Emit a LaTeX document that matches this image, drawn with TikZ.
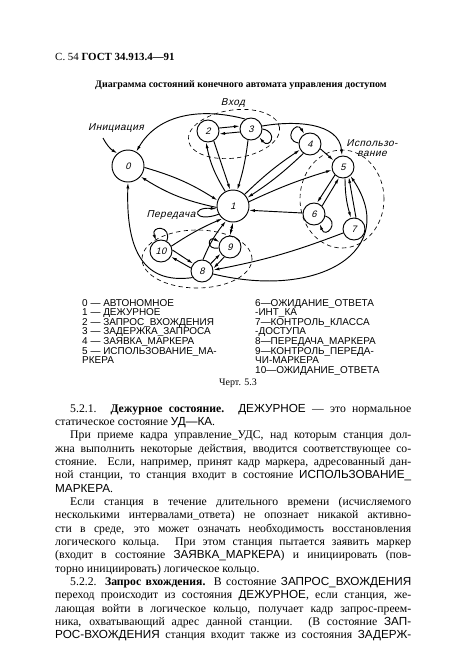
\documentclass[tikz,border=0pt]{standalone}
\usepackage{fontspec}
\setmainfont{Liberation Serif}
\newfontfamily\capfont{Liberation Sans}
\newfontfamily\gostfont[FakeSlant=0.25,LetterSpace=5]{Liberation Sans}
\usetikzlibrary{arrows.meta, positioning, calc}

\newcommand{\cp}[1]{{\capfont #1}}
\newlength{\fullw}\setlength{\fullw}{106.8mm}
\newlength{\indw}\setlength{\indw}{102.3mm}
\newcommand{\jline}[1]{\hbox to \fullw{#1}}
\newcommand{\jind}[1]{\hbox to \indw{#1}}

\begin{document}
\begin{tikzpicture}[x=0.3mm, y=0.3mm,
  >={Latex[length=1.8mm, width=0.9mm]},
  state/.style={draw, circle, line width=0.8pt, minimum size=6.6mm, inner sep=0pt, font=\gostfont\fontsize{8}{8}\selectfont},
  bigstate/.style={state, minimum size=9.6mm},
  flow/.style={->, line width=0.8pt},
  group/.style={draw, dash pattern=on 1.3mm off 1mm, line width=0.55pt},
  tag/.style={font=\gostfont\fontsize{8.5}{9}\selectfont, inner sep=0pt, align=center},
  legend/.style={anchor=base west, inner sep=0pt, font=\capfont\fontsize{8.5}{8.5}\selectfont},
  body/.style={anchor=base west, inner sep=0pt, font=\fontsize{10}{12}\selectfont}
]
\useasboundingbox (0,0) rectangle (466,-661);

% page head
\node[anchor=base west, inner sep=0pt, font=\fontsize{9.3}{10}\selectfont] (head) at (55,-60) {С. 54 \textbf{ГОСТ 34.913.4—91}};
\node[anchor=base, inner sep=0pt, font=\bfseries\fontsize{8.5}{10}\selectfont] (title) at (241,-87) {Диаграмма состояний конечного автомата управления доступом};

% states
\node[bigstate] (s0) at (128,-166) {0};
\node[bigstate] (s1) at (233,-206) {1};
\node[state] (s2) at (208,-131) {2};
\node[state] (s3) at (251,-129) {3};
\node[state] (s4) at (310,-144) {4};
\node[state] (s5) at (343,-167) {5};
\node[state] (s6) at (314,-214) {6};
\node[state] (s7) at (354,-229) {7};
\node[state] (s8) at (202,-271) {8};
\node[state] (s9) at (230,-247) {9};
\node[state] (s10) at (161,-251) {10};

% groups
\draw[group, rotate around={8:(234,-134)}] (234,-134) ellipse [x radius=46, y radius=24];
\draw[group] (342,-199) ellipse [x radius=42, y radius=49];
\draw[group] (197,-259) ellipse [x radius=55, y radius=29];

% labels
\node[tag] (lbInit) at (116,-128) {Инициация};
\node[tag] (lbVhod) at (233,-103) {Вход};
\node[tag] (lbUse) at (372,-148) {Использо-\\вание};
\node[tag] (lbPered) at (171,-215) {Передача};
\coordinate (initTail) at (103,-138);

% transitions
\draw[flow] (initTail) to[bend right=15] (s0.130);
\draw[flow] (s3.120) to[out=165, in=60] (s0.60);
\draw[flow] (s0.-5) to[bend left=8] (s1.160);
\draw[flow] (s1.185) to[bend left=10] (s0.-40);
\draw[flow] (s8.215) .. controls (140,-285) and (126,-245) .. (s0.-90);
\draw[flow] (s2.15) -- (s3.165);
\draw[flow] (s3.-165) -- (s2.-15);
\draw[flow] (s1.118) to[bend left=10] (s2.-100);
\draw[flow] (s2.-60) -- (s1.100);
\draw[flow] (s3.-105) to[bend left=5] (s1.75);
\draw[flow] (s1.45) to[bend left=5] (s4.-150);
\draw[flow] (s4.-125) to[bend left=5] (s1.30);
\draw[flow] (s1.15) to[bend left=4] (s5.195);
\draw[flow] (s4.-25) -- (s5.145);
\draw[flow] (s3.15) to[out=10, in=95] (s5.95);
\draw[flow] (s5.-135) -- (s6.75);
\draw[flow] (s6.45) -- (s5.-110);
\draw[flow] (s6.175) -- (s1.-15);
\draw[flow] (s5.-80) to[bend right=8] (s7.105);
\draw[flow] (s7.80) -- (s5.-60);
\draw[flow] (s8.-15) .. controls (320,-300) and (400,-250) .. (s5.-50);
\draw[flow] (s7.-160) to[bend left=5] (s8.5);
\draw[<->, line width=0.8pt] (s1.-90) -- (s9.90);
\draw[flow] (s10.25) to[bend left=5] (s1.-130);
\draw[flow] (s8.85) to[bend left=8] (s1.-115);
\draw[flow] (s10.5) -- (s8.140);
\draw[flow] (s8.165) -- (s10.-30);
\draw[flow] (s8.40) -- (s9.-145);
\draw[flow] (s9.-120) -- (s8.12);

% self loops
\draw[flow] (s3.0) to[out=-10, in=-50, distance=5mm] (s3.-45);
\draw[flow] (s4.175) to[out=170, in=120, distance=5mm] (s4.120);
\draw[flow] (s6.-10) to[out=-20, in=-70, distance=5mm] (s6.-60);
\draw[flow] (s1.210) to[out=200, in=175, distance=8mm] (s1.190);
\draw[flow] (s9.185) to[out=190, in=150, distance=4mm] (s9.155);
\draw[flow] (s10.60) to[out=70, in=110, distance=5mm] (s10.115);

% legend
\foreach \t [count=\i] in {0 — АВТОНОМНОЕ, 1 — ДЕЖУРНОЕ, 2 — ЗАПРОС\_ВХОЖДЕНИЯ, 3 — ЗАДЕРЖКА\_ЗАПРОСА, 4 — ЗАЯВКА\_МАРКЕРА, 5 — ИСПОЛЬЗОВАНИЕ\_МА-, РКЕРА}
  \node[legend] (legL\i) at (82,{-306-9.6*(\i-1)}) {\t};
\foreach \t [count=\i] in {6—ОЖИДАНИЕ\_ОТВЕТА, -ИНТ\_КА, 7—КОНТРОЛЬ\_КЛАССА, -ДОСТУПА, 8—ПЕРЕДАЧА\_МАРКЕРА, 9—КОНТРОЛЬ\_ПЕРЕДА-, ЧИ-МАРКЕРА, 10—ОЖИДАНИЕ\_ОТВЕТА}
  \node[legend] (legR\i) at (255,{-306-9.6*(\i-1)}) {\t};
\node[anchor=base, inner sep=0pt, font=\fontsize{8.5}{10}\selectfont] (caption) at (238,-385) {Черт. 5.3};

% text
\node[body] (t1) at (70,-412) {\jind{5.2.1. \textbf{Дежурное состояние.} \cp{ДЕЖУРНОЕ} — это нормальное}};
\node[body] (t2) at (55,-425.35) {статическое состояние \cp{УД—КА}.};
\node[body] (t3) at (70,-438.7) {\jind{При приеме кадра управление\_УДС, над которым станция дол-}};
\node[body] (t4) at (55,-452.05) {\jline{жна выполнить некоторые действия, вводится соответствующее со-}};
\node[body] (t5) at (55,-465.4) {\jline{стояние. Если, например, принят кадр маркера, адресованный дан-}};
\node[body] (t6) at (55,-478.75) {\jline{ной станции, то станция входит в состояние \cp{ИСПОЛЬЗОВАНИЕ\_}}};
\node[body] (t7) at (55,-492.1) {\cp{МАРКЕРА}.};
\node[body] (t8) at (70,-505.45) {\jind{Если станция в течение длительного времени (исчисляемого}};
\node[body] (t9) at (55,-518.8) {\jline{несколькими интервалами\_ответа) не опознает никакой активно-}};
\node[body] (t10) at (55,-532.15) {\jline{сти в среде, это может означать необходимость восстановления}};
\node[body] (t11) at (55,-545.5) {\jline{логического кольца. При этом станция пытается заявить маркер}};
\node[body] (t12) at (55,-558.85) {\jline{(входит в состояние \cp{ЗАЯВКА\_МАРКЕРА}) и инициировать (пов-}};
\node[body] (t13) at (55,-572.2) {торно инициировать) логическое кольцо.};
\node[body] (t14) at (70,-585.55) {\jind{5.2.2. \textbf{Запрос вхождения.} В состояние \cp{ЗАПРОС\_ВХОЖДЕНИЯ}}};
\node[body] (t15) at (55,-598.9) {\jline{переход происходит из состояния \cp{ДЕЖУРНОЕ}, если станция, же-}};
\node[body] (t16) at (55,-612.25) {\jline{лающая войти в логическое кольцо, получает кадр запрос-преем-}};
\node[body] (t17) at (55,-625.6) {\jline{ника, охватывающий адрес данной станции. (В состояние \cp{ЗАП-}}};
\node[body] (t18) at (55,-638.95) {\jline{\cp{РОС-ВХОЖДЕНИЯ} станция входит также из состояния \cp{ЗАДЕРЖ-}}};
\end{tikzpicture}
\end{document}
